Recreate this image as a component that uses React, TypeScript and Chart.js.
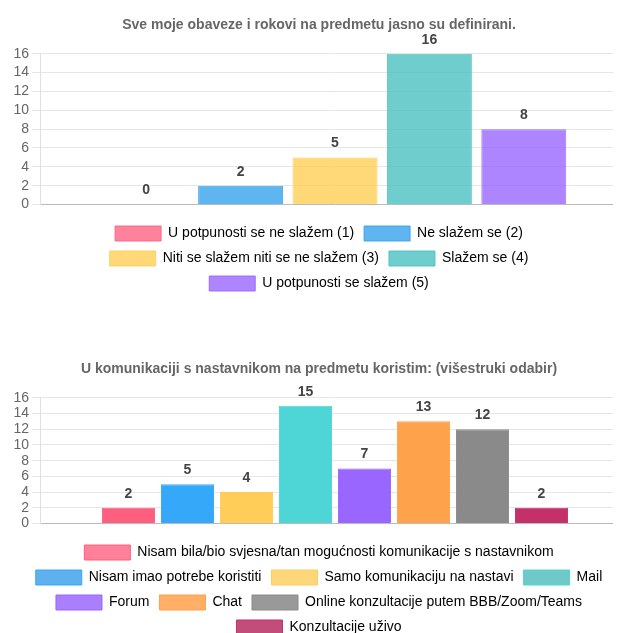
import React, { useEffect, useRef } from "react";
import { Chart, registerables } from "chart.js";

Chart.register(...registerables);

const FONT = "'Liberation Sans', Arial, Helvetica, sans-serif";

const title1 = "Sve moje obaveze i rokovi na predmetu jasno su definirani.";
const series1Labels = [
  "U potpunosti se ne slažem (1)",
  "Ne slažem se (2)",
  "Niti se slažem niti se ne slažem (3)",
  "Slažem se (4)",
  "U potpunosti se slažem (5)",
];
const series1Values = [0, 2, 5, 16, 8];

const title2 = "U komunikaciji s nastavnikom na predmetu koristim: (višestruki odabir)";
const series2Labels = [
  "Nisam bila/bio svjesna/tan mogućnosti komunikacije s nastavnikom",
  "Nisam imao potrebe koristiti",
  "Samo komunikaciju na nastavi",
  "Mail",
  "Forum",
  "Chat",
  "Online konzultacije putem BBB/Zoom/Teams",
  "Konzultacije uživo",
];
const series2Values = [2, 5, 4, 15, 7, 13, 12, 2];

const yMax = 16;
const yStep = 2;

const colors1 = [
  "rgba(255,99,132,0.8)",
  "rgba(54,162,235,0.8)",
  "rgba(255,206,86,0.8)",
  "rgba(75,192,192,0.8)",
  "rgba(153,102,255,0.8)",
];
const borders1 = [
  "rgba(255,99,132,0.9)",
  "rgba(54,162,235,0.9)",
  "rgba(255,206,86,0.9)",
  "rgba(75,192,192,0.9)",
  "rgba(153,102,255,0.9)",
];

const colors2 = [
  "rgb(255,95,127)",
  "rgb(54,168,250)",
  "rgb(255,205,88)",
  "rgb(78,214,214)",
  "rgb(153,102,255)",
  "rgb(255,162,76)",
  "rgb(138,138,138)",
  "rgb(196,48,106)",
];
const legend2 = [
  "rgb(255,128,153)",
  "rgb(93,177,238)",
  "rgb(255,214,122)",
  "rgb(111,201,201)",
  "rgb(169,127,251)",
  "rgb(255,175,102)",
  "rgb(153,153,153)",
  "rgb(194,77,123)",
];

const valueLabelPlugin = {
  id: "valueLabels",
  afterDatasetsDraw(chart: any) {
    const ctx = chart.ctx;
    ctx.save();
    ctx.font = `bold 14px ${FONT}`;
    ctx.fillStyle = "#444";
    ctx.textAlign = "center";
    ctx.textBaseline = "middle";
    chart.data.datasets.forEach((ds: any, i: number) => {
      const meta = chart.getDatasetMeta(i);
      meta.data.forEach((bar: any, j: number) => {
        ctx.fillText(String(ds.data[j]), bar.x, bar.y - 14);
      });
    });
    ctx.restore();
  },
};

function BarChart({
  title,
  labels,
  values,
  colors,
  borders,
  legendColors,
}: {
  title: string;
  labels: string[];
  values: number[];
  colors: string[];
  borders: string[];
  legendColors: string[];
}) {
  const ref = useRef<HTMLCanvasElement | null>(null);
  useEffect(() => {
    if (!ref.current) return;
    const chart = new Chart(ref.current, {
      type: "bar",
      data: {
        labels: [""],
        datasets: labels.map((l, i) => ({
          label: l,
          data: [values[i]],
          backgroundColor: colors[i],
          borderColor: borders[i],
          borderWidth: 1,
        })),
      },
      options: {
        animation: false,
        responsive: true,
        maintainAspectRatio: false,
        layout: { padding: { left: 0, right: 2, top: 0, bottom: 0 } },
        plugins: {
          title: {
            display: true,
            text: title,
            color: "#666",
            font: { family: FONT, size: 14, weight: "bold" },
            padding: { top: 9, bottom: 20 },
          },
          legend: {
            position: "bottom",
            labels: {
              boxWidth: 46,
              boxHeight: 15,
              padding: 10,
              color: "#333",
              font: { family: FONT, size: 14 },
              generateLabels: (c: any) =>
                c.data.datasets.map((ds: any, i: number) => ({
                  text: ds.label,
                  fillStyle: legendColors[i],
                  strokeStyle: borders[i],
                  lineWidth: 1,
                  hidden: false,
                  datasetIndex: i,
                })),
            },
          },
          tooltip: { enabled: false },
        },
        scales: {
          x: {
            ticks: { display: false },
            grid: { display: true, drawTicks: false, color: "#e6e6e6" },
            border: { color: "#bbb", width: 1 },
            afterFit: (s: any) => {
              s.height = 11.5;
            },
          },
          y: {
            min: 0,
            max: yMax,
            ticks: {
              stepSize: yStep,
              autoSkip: false,
              color: "#666",
              font: { family: FONT, size: 14 },
            },
            grid: { color: "#e6e6e6", tickLength: 8 },
            border: { color: "#e0e0e0" },
            afterFit: (s: any) => {
              s.width = 32;
            },
          },
        },
      },
      plugins: [valueLabelPlugin],
    } as any);
    return () => chart.destroy();
  }, []);
  return (
    <div style={{ position: "relative", width: 624, height: 293 }}>
      <canvas ref={ref} />
    </div>
  );
}

export default function App() {
  useEffect(() => {
    document.documentElement.style.overflow = "hidden";
    document.body.style.overflow = "hidden";
  }, []);
  return (
    <div style={{ width: 613, height: 625, overflow: "hidden", fontFamily: FONT }}>
      <div style={{ width: 624 }}>
        <BarChart
          title={title1}
          labels={series1Labels}
          values={series1Values}
          colors={colors1}
          borders={borders1}
          legendColors={colors1}
        />
        <div style={{ height: 51 }} />
        <BarChart
          title={title2}
          labels={series2Labels}
          values={series2Values}
          colors={colors2}
          borders={colors2}
          legendColors={legend2}
        />
      </div>
    </div>
  );
}
